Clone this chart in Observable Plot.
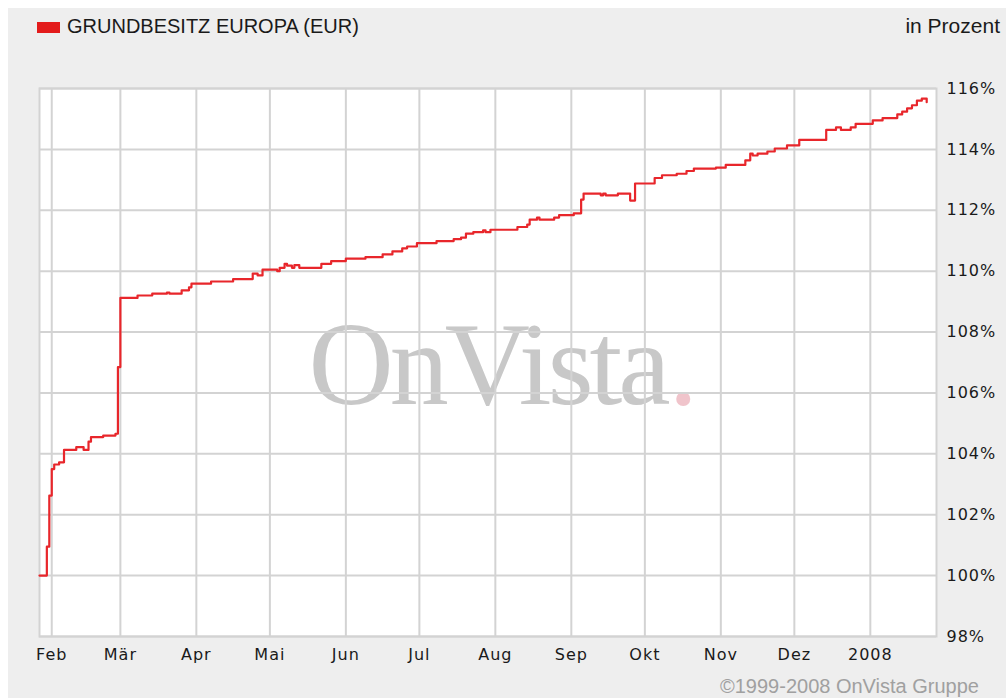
<!DOCTYPE html>
<html><head><meta charset="utf-8">
<script src="https://cdn.jsdelivr.net/npm/d3@7"></script>
<script src="https://cdn.jsdelivr.net/npm/@observablehq/plot@0.6"></script>
<style>
body{margin:0;background:#fff;}
#wrap{position:relative;width:1006px;height:699px;overflow:hidden;background:#fff;}
#bg{position:absolute;left:8px;top:8px;width:998px;height:690px;background:#eeeeee;}
#over{position:absolute;left:0;top:0;}
#chart{position:absolute;left:0;top:0;}
g[aria-label$="tick label"]{letter-spacing:1px;}
</style>
</head><body>
<div id="wrap">
  <div id="bg"></div>
  <svg id="over" width="1006" height="699">
    <rect x="37" y="22" width="23" height="11" fill="#e31b1b"></rect>
    <text x="67" y="33" font-family="Liberation Sans, Arial, sans-serif" font-size="20" fill="#1a1a1a">GRUNDBESITZ EUROPA (EUR)</text>
    <text x="1000" y="33" text-anchor="end" font-family="Liberation Sans, Arial, sans-serif" font-size="21" fill="#1a1a1a">in Prozent</text>
    <text x="720" y="693" font-family="Liberation Sans, Arial, sans-serif" font-size="20" fill="#a0a0a0">©1999-2008 OnVista Gruppe</text>
  </svg>
  <div id="chart"></div>
</div>
<script>
const seriesName = "GRUNDBESITZ EUROPA (EUR)";
const dates = ["2007-01-27","2007-01-30","2007-01-31","2007-02-01","2007-02-02","2007-02-04","2007-02-06","2007-02-11","2007-02-14","2007-02-16","2007-02-17","2007-02-22","2007-02-27","2007-02-28",
"2007-03-01","2007-03-08","2007-03-14","2007-03-20","2007-03-21","2007-03-26","2007-03-29","2007-03-30",
"2007-04-07","2007-04-16","2007-04-24","2007-04-26","2007-04-28",
"2007-05-04","2007-05-05","2007-05-07","2007-05-08","2007-05-10","2007-05-11","2007-05-13","2007-05-22","2007-05-26",
"2007-06-01","2007-06-09","2007-06-16","2007-06-20","2007-06-24","2007-06-26","2007-06-30",
"2007-07-08","2007-07-15","2007-07-18","2007-07-20","2007-07-23","2007-07-27","2007-07-28","2007-07-30",
"2007-08-10","2007-08-14","2007-08-15","2007-08-18","2007-08-19","2007-08-25","2007-08-27",
"2007-09-02","2007-09-05","2007-09-06","2007-09-13","2007-09-14","2007-09-15","2007-09-20","2007-09-25","2007-09-27",
"2007-10-05","2007-10-08","2007-10-14","2007-10-18","2007-10-21","2007-10-30",
"2007-11-03","2007-11-11","2007-11-13","2007-11-14","2007-11-16","2007-11-20","2007-11-23","2007-11-28",
"2007-12-03","2007-12-14","2007-12-18","2007-12-20","2007-12-24","2007-12-26",
"2008-01-02","2008-01-06","2008-01-12","2008-01-14","2008-01-16","2008-01-18","2008-01-20","2008-01-22","2008-01-24"];
const values = [100.00,100.95,102.63,103.50,103.65,103.72,104.13,104.22,104.13,104.40,104.55,104.60,104.66,106.85,
109.12,109.20,109.26,109.30,109.26,109.37,109.47,109.59,
109.66,109.74,109.92,109.86,110.05,
110.00,110.11,110.24,110.18,110.11,110.20,110.11,110.24,110.33,
110.41,110.46,110.55,110.65,110.75,110.81,110.92,
110.99,111.05,111.10,111.23,111.28,111.34,111.28,111.36,
111.45,111.53,111.69,111.76,111.69,111.76,111.84,
111.90,112.35,112.55,112.49,112.55,112.49,112.55,112.32,112.88,
113.06,113.15,113.20,113.29,113.37,113.40,
113.49,113.64,113.86,113.80,113.86,113.93,114.03,114.13,
114.31,114.64,114.72,114.64,114.72,114.84,
114.95,115.03,115.15,115.24,115.35,115.45,115.60,115.67,115.55];
const monthTicks = ["2007-02-01","2007-03-01","2007-04-01","2007-05-01","2007-06-01","2007-07-01","2007-08-01","2007-09-01","2007-10-01","2007-11-01","2007-12-01","2008-01-01"];
const monthLabels = ["Feb","Mär","Apr","Mai","Jun","Jul","Aug","Sep","Okt","Nov","Dez","2008"];
const yTicks = [98,100,102,104,106,108,110,112,114,116];
const xDomain = ["2007-01-27","2008-01-28"];

const parse = s => new Date(s + "T00:00:00Z");
const data = dates.map((d, i) => ({date: parse(d), value: values[i]}));
const tickDates = monthTicks.map(parse);
const labelOf = d => monthLabels[tickDates.findIndex(t => +t === +d)];

const chart = Plot.plot({
  width: 1006, height: 699,
  marginLeft: 39, marginRight: 70, marginTop: 88, marginBottom: 63,
  style: {background: "transparent", fontFamily: "DejaVu Sans, Verdana, sans-serif", fontSize: "16px", color: "#1a1a1a", overflow: "visible"},
  x: {type: "utc", domain: xDomain.map(parse)},
  y: {domain: [98, 116]},
  marks: [
    Plot.frame({fill: "white", stroke: null}),
    Plot.text(["OnVista"], {frameAnchor: "top-left", dx: 269, dy: 315, textAnchor: "start", lineAnchor: "bottom", fontFamily: "Liberation Serif, Times New Roman, serif", fontSize: 118, fill: "#c8c8c8"}),
    Plot.text(["."], {frameAnchor: "top-left", dx: 629, dy: 315, textAnchor: "start", lineAnchor: "bottom", fontFamily: "Liberation Serif, Times New Roman, serif", fontSize: 118, fill: "#f0c4cb"}),
    Plot.gridX(tickDates, {stroke: "#d3d3d3", strokeOpacity: 1, strokeWidth: 2}),
    Plot.gridY(yTicks, {stroke: "#d3d3d3", strokeOpacity: 1, strokeWidth: 2}),
    Plot.frame({stroke: "#d3d3d3", strokeWidth: 2}),
    Plot.axisX(tickDates, {tickSize: 0, tickPadding: 12, tickFormat: labelOf, label: null}),
    Plot.axisY(yTicks, {anchor: "right", tickSize: 0, tickPadding: 10, tickFormat: d => d + "%", label: null}),
    Plot.line(data, {x: "date", y: "value", stroke: "#e8262b", strokeWidth: 2.2, curve: "step-after"})
  ]
});
// compress the watermark word
chart.querySelectorAll("text").forEach(t => {
  if (t.textContent === "OnVista") t.style.letterSpacing = "-4px";
});
document.getElementById("chart").appendChild(chart);
</script>
</body></html>
